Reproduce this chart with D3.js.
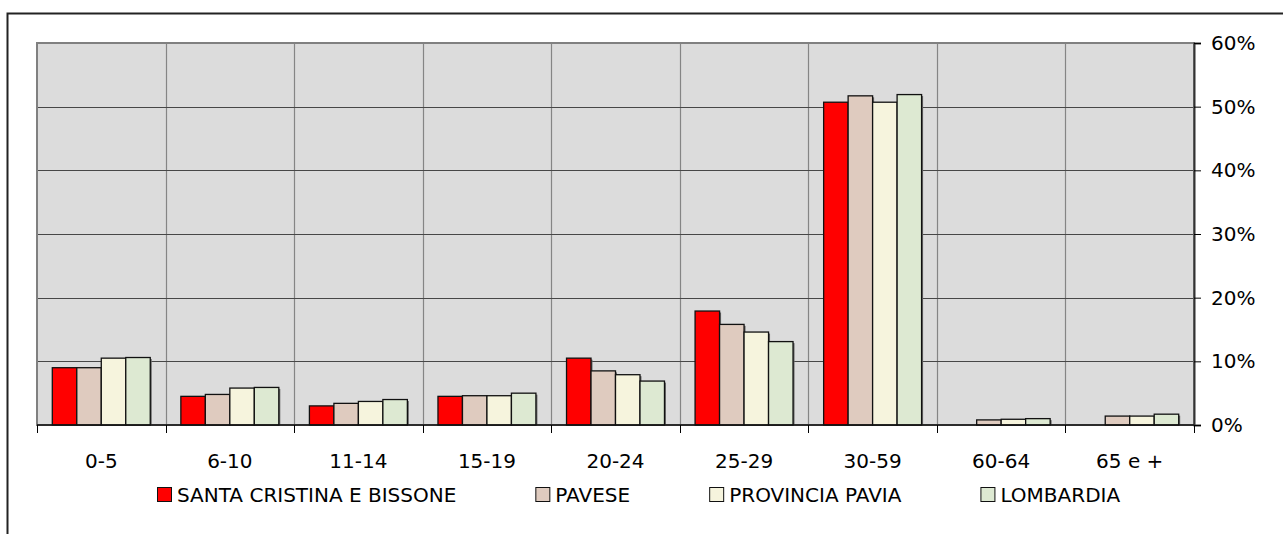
<!DOCTYPE html>
<html>
<head>
<meta charset="utf-8">
<script src="https://cdn.jsdelivr.net/npm/d3@7"></script>
<style>
  html, body { margin: 0; padding: 0; background: #fff; }
  svg { display: block; }
  text { font-family: "DejaVu Sans", Verdana, sans-serif; fill: #000; }
</style>
</head>
<body>
<svg id="chart" width="1283" height="534"></svg>
<script>
// Age groups along the bottom axis
const categories = ["0-5", "6-10", "11-14", "15-19", "20-24", "25-29", "30-59", "60-64", "65 e +"];

// Share of population per age group (%)
const santaCristina  = [9.0, 4.5, 3.0, 4.5, 10.5, 17.9, 50.7, 0.0, 0.0];
const pavese         = [9.0, 4.8, 3.4, 4.6, 8.5, 15.8, 51.7, 0.8, 1.4];
const provinciaPavia = [10.5, 5.8, 3.7, 4.6, 7.9, 14.6, 50.7, 0.9, 1.4];
const lombardia      = [10.6, 5.9, 4.0, 5.0, 6.9, 13.1, 51.9, 1.0, 1.7];

const seriesNames = ["SANTA CRISTINA E BISSONE", "PAVESE", "PROVINCIA PAVIA", "LOMBARDIA"];
const seriesColors = ["#ff0000", "#dfcbbf", "#f6f4dd", "#dde9d2"];
const yTicks = [0, 10, 20, 30, 40, 50, 60];

const seriesValues = [santaCristina, pavese, provinciaPavia, lombardia];

const FONT = 20;
const svg = d3.select("#chart");

// Outer chart frame (runs past the right and bottom edges)
svg.append("rect")
  .attr("x", 7.5).attr("y", 13.5)
  .attr("width", 1400).attr("height", 700)
  .attr("fill", "#fff").attr("stroke", "#222").attr("stroke-width", 2);

const plot = { left: 37, right: 1194, top: 43, bottom: 425 };

const x0 = d3.scaleBand()
  .domain(categories)
  .range([plot.left, plot.right])
  .paddingInner(0).paddingOuter(0);

// 125% gap between groups
const barW = x0.bandwidth() / (4 + 1.25);
const x1 = d3.scaleBand()
  .domain(d3.range(4))
  .range([0, barW * 4]);

const y = d3.scaleLinear().domain([0, 60]).range([plot.bottom, plot.top]);

// Plot background
svg.append("rect")
  .attr("x", plot.left).attr("y", plot.top)
  .attr("width", plot.right - plot.left).attr("height", plot.bottom - plot.top)
  .attr("fill", "#dcdcdc");

// Vertical gridlines at category boundaries
svg.append("g")
  .selectAll("line")
  .data(categories.slice(1))
  .join("line")
  .attr("x1", d => Math.round(x0(d)) + 0.5).attr("x2", d => Math.round(x0(d)) + 0.5)
  .attr("y1", plot.top).attr("y2", plot.bottom)
  .attr("stroke", "#858585").attr("stroke-width", 1.2);

// Horizontal gridlines
svg.append("g")
  .selectAll("line")
  .data(yTicks.slice(1, -1))
  .join("line")
  .attr("x1", plot.left).attr("x2", plot.right)
  .attr("y1", d => Math.round(y(d)) + 0.5).attr("y2", d => Math.round(y(d)) + 0.5)
  .attr("stroke", "#474747").attr("stroke-width", 1.2);

// Plot border
svg.append("rect")
  .attr("x", plot.left).attr("y", plot.top)
  .attr("width", plot.right - plot.left).attr("height", plot.bottom - plot.top)
  .attr("fill", "none").attr("stroke", "#808080").attr("stroke-width", 2);

// Bars
const groups = svg.append("g")
  .selectAll("g")
  .data(categories)
  .join("g")
  .attr("transform", d => `translate(${x0(d) + (x0.bandwidth() - barW * 4) / 2},0)`);

const bars = groups.selectAll("g")
  .data((d, i) => seriesValues.map((s, k) => ({ k, v: s[i] })).filter(d => d.v > 0))
  .join("g");

// soft drop shadow on the right edge of each bar
bars.append("rect")
  .attr("x", d => x1(d.k) + 1.5)
  .attr("y", d => y(d.v) + 1.5)
  .attr("width", x1.bandwidth())
  .attr("height", d => y(0) - y(d.v) - 1.5)
  .attr("fill", "#6a6a6a");

bars.append("rect")
  .attr("x", d => x1(d.k))
  .attr("y", d => y(d.v))
  .attr("width", x1.bandwidth())
  .attr("height", d => y(0) - y(d.v))
  .attr("fill", d => seriesColors[d.k])
  .attr("stroke", "#111").attr("stroke-width", 1.3);

// Right value axis
const yAxis = d3.axisRight(y)
  .tickValues(yTicks)
  .tickFormat(d => d + "%")
  .tickSize(7)
  .tickPadding(10);

const ya = svg.append("g")
  .attr("transform", `translate(${plot.right},0)`)
  .call(yAxis);
ya.select(".domain").attr("stroke", "#333").attr("stroke-width", 2);
ya.selectAll(".tick line").attr("stroke", "#000");
ya.selectAll(".tick text")
  .attr("font-family", "DejaVu Sans, Verdana, sans-serif")
  .attr("font-size", FONT).attr("fill", "#000");

// Bottom category axis with ticks at the group boundaries
const xa = svg.append("g").attr("transform", `translate(0,${plot.bottom})`);
xa.append("line")
  .attr("x1", plot.left).attr("x2", plot.right)
  .attr("stroke", "#111").attr("stroke-width", 1.5);
xa.selectAll("line.tick")
  .data(categories.concat(["end"]))
  .join("line")
  .attr("class", "tick")
  .attr("x1", (d, i) => Math.round(plot.left + i * x0.bandwidth()) + 0.5)
  .attr("x2", (d, i) => Math.round(plot.left + i * x0.bandwidth()) + 0.5)
  .attr("y1", 0).attr("y2", 8)
  .attr("stroke", "#000");
xa.selectAll("text")
  .data(categories)
  .join("text")
  .attr("x", d => x0(d) + x0.bandwidth() / 2)
  .attr("y", 43)
  .attr("text-anchor", "middle")
  .attr("font-size", FONT)
  .text(d => d);

// Legend: entries laid out left to right with a fixed gap
const legend = svg.append("g").attr("transform", "translate(0,487)");
let lx = 157;
seriesNames.forEach((name, i) => {
  const g = legend.append("g").attr("transform", `translate(${lx},0)`);
  g.append("rect")
    .attr("x", 0.5).attr("y", 0.5)
    .attr("width", 14).attr("height", 14)
    .attr("fill", seriesColors[i])
    .attr("stroke", "#111").attr("stroke-width", 1);
  const t = g.append("text")
    .attr("x", 20).attr("y", 15)
    .attr("font-size", FONT)
    .text(name);
  lx += 20 + t.node().getComputedTextLength() + 79;
});
</script>
</body>
</html>
